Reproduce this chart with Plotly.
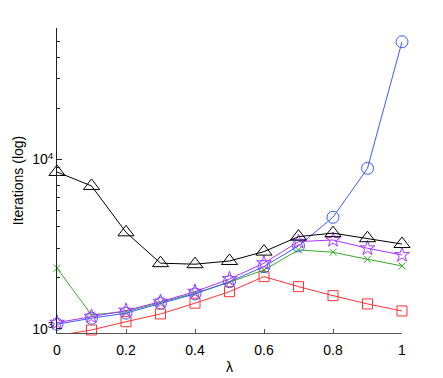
import plotly.graph_objects as go

lam = [0, 0.1, 0.2, 0.3, 0.4, 0.5, 0.6, 0.7, 0.8, 0.9, 1.0]
black_tri = [8440, 6980, 3717, 2444, 2410, 2518, 2860, 3506, 3675, 3430, 3170]
blue_circ = [1066, 1157, 1239, 1419, 1609, 1901, 2332, 3090, 4560, 8870, 49500]
purple_star = [1089, 1183, 1283, 1449, 1659, 1971, 2444, 3275, 3350, 2993, 2733]
green_x = [2282, 1210, 1265, 1430, 1625, 1886, 2228, 2925, 2836, 2576, 2355]
red_sq = [912, 986, 1103, 1226, 1419, 1659, 2035, 1777, 1572, 1405, 1277]

ytick_vals = [1000, 10000]
ytick_text = ["10<sup>3</sup>", "10<sup>4</sup>"]
yminor_vals = [2000, 3000, 4000, 5000, 6000, 7000, 8000, 9000,
               20000, 30000, 40000, 50000, 60000]
xtick_vals = [0, 0.2, 0.4, 0.6, 0.8, 1]
xtick_text = ["0", "0.2", "0.4", "0.6", "0.8", "1"]

series = [
    (red_sq, "#ff3333", "square-open", 10),
    (green_x, "#33aa22", "x-thin-open", 7),
    (blue_circ, "#3b5cff", "circle-open", 12),
    (purple_star, "#aa33ff", "star-open", 11),
    (black_tri, "#000000", "triangle-up-open", 14),
]

fig = go.Figure()
for vals, col, sym, sz in series:
    fig.add_trace(go.Scatter(
        x=lam, y=vals, mode="lines+markers",
        line=dict(color=col, width=1),
        marker=dict(symbol=sym, size=sz, color=col, line=dict(color=col, width=1)),
        cliponaxis=False, showlegend=False,
    ))

font = dict(family="Liberation Sans, Arial, sans-serif", size=14, color="#000000")

fig.update_layout(
    width=443, height=378,
    margin=dict(l=49, r=49, t=20, b=53),
    paper_bgcolor="white", plot_bgcolor="white",
    font=font,
    xaxis=dict(
        range=[0, 1], tickvals=xtick_vals, ticktext=xtick_text,
        ticks="inside", ticklen=4, tickcolor="#555555",
        showline=True, linecolor="#555555", linewidth=1,
        showgrid=False, zeroline=False, mirror=False, automargin=False,
        ticklabelstandoff=4,
        title=dict(text="λ", standoff=5, font=font),
    ),
    yaxis=dict(
        type="log", range=[2.976, 4.776],
        tickvals=ytick_vals, ticktext=ytick_text,
        ticks="inside", ticklen=5, tickcolor="#222222",
        minor=dict(tickvals=yminor_vals, ticks="inside", ticklen=3, tickcolor="#222222"),
        showline=True, linecolor="#222222", linewidth=1,
        showgrid=False, zeroline=False, mirror=False, automargin=False,
        title=dict(text="Iterations (log)", standoff=5, font=font),
    ),
)

fig.write_html("out.html")
